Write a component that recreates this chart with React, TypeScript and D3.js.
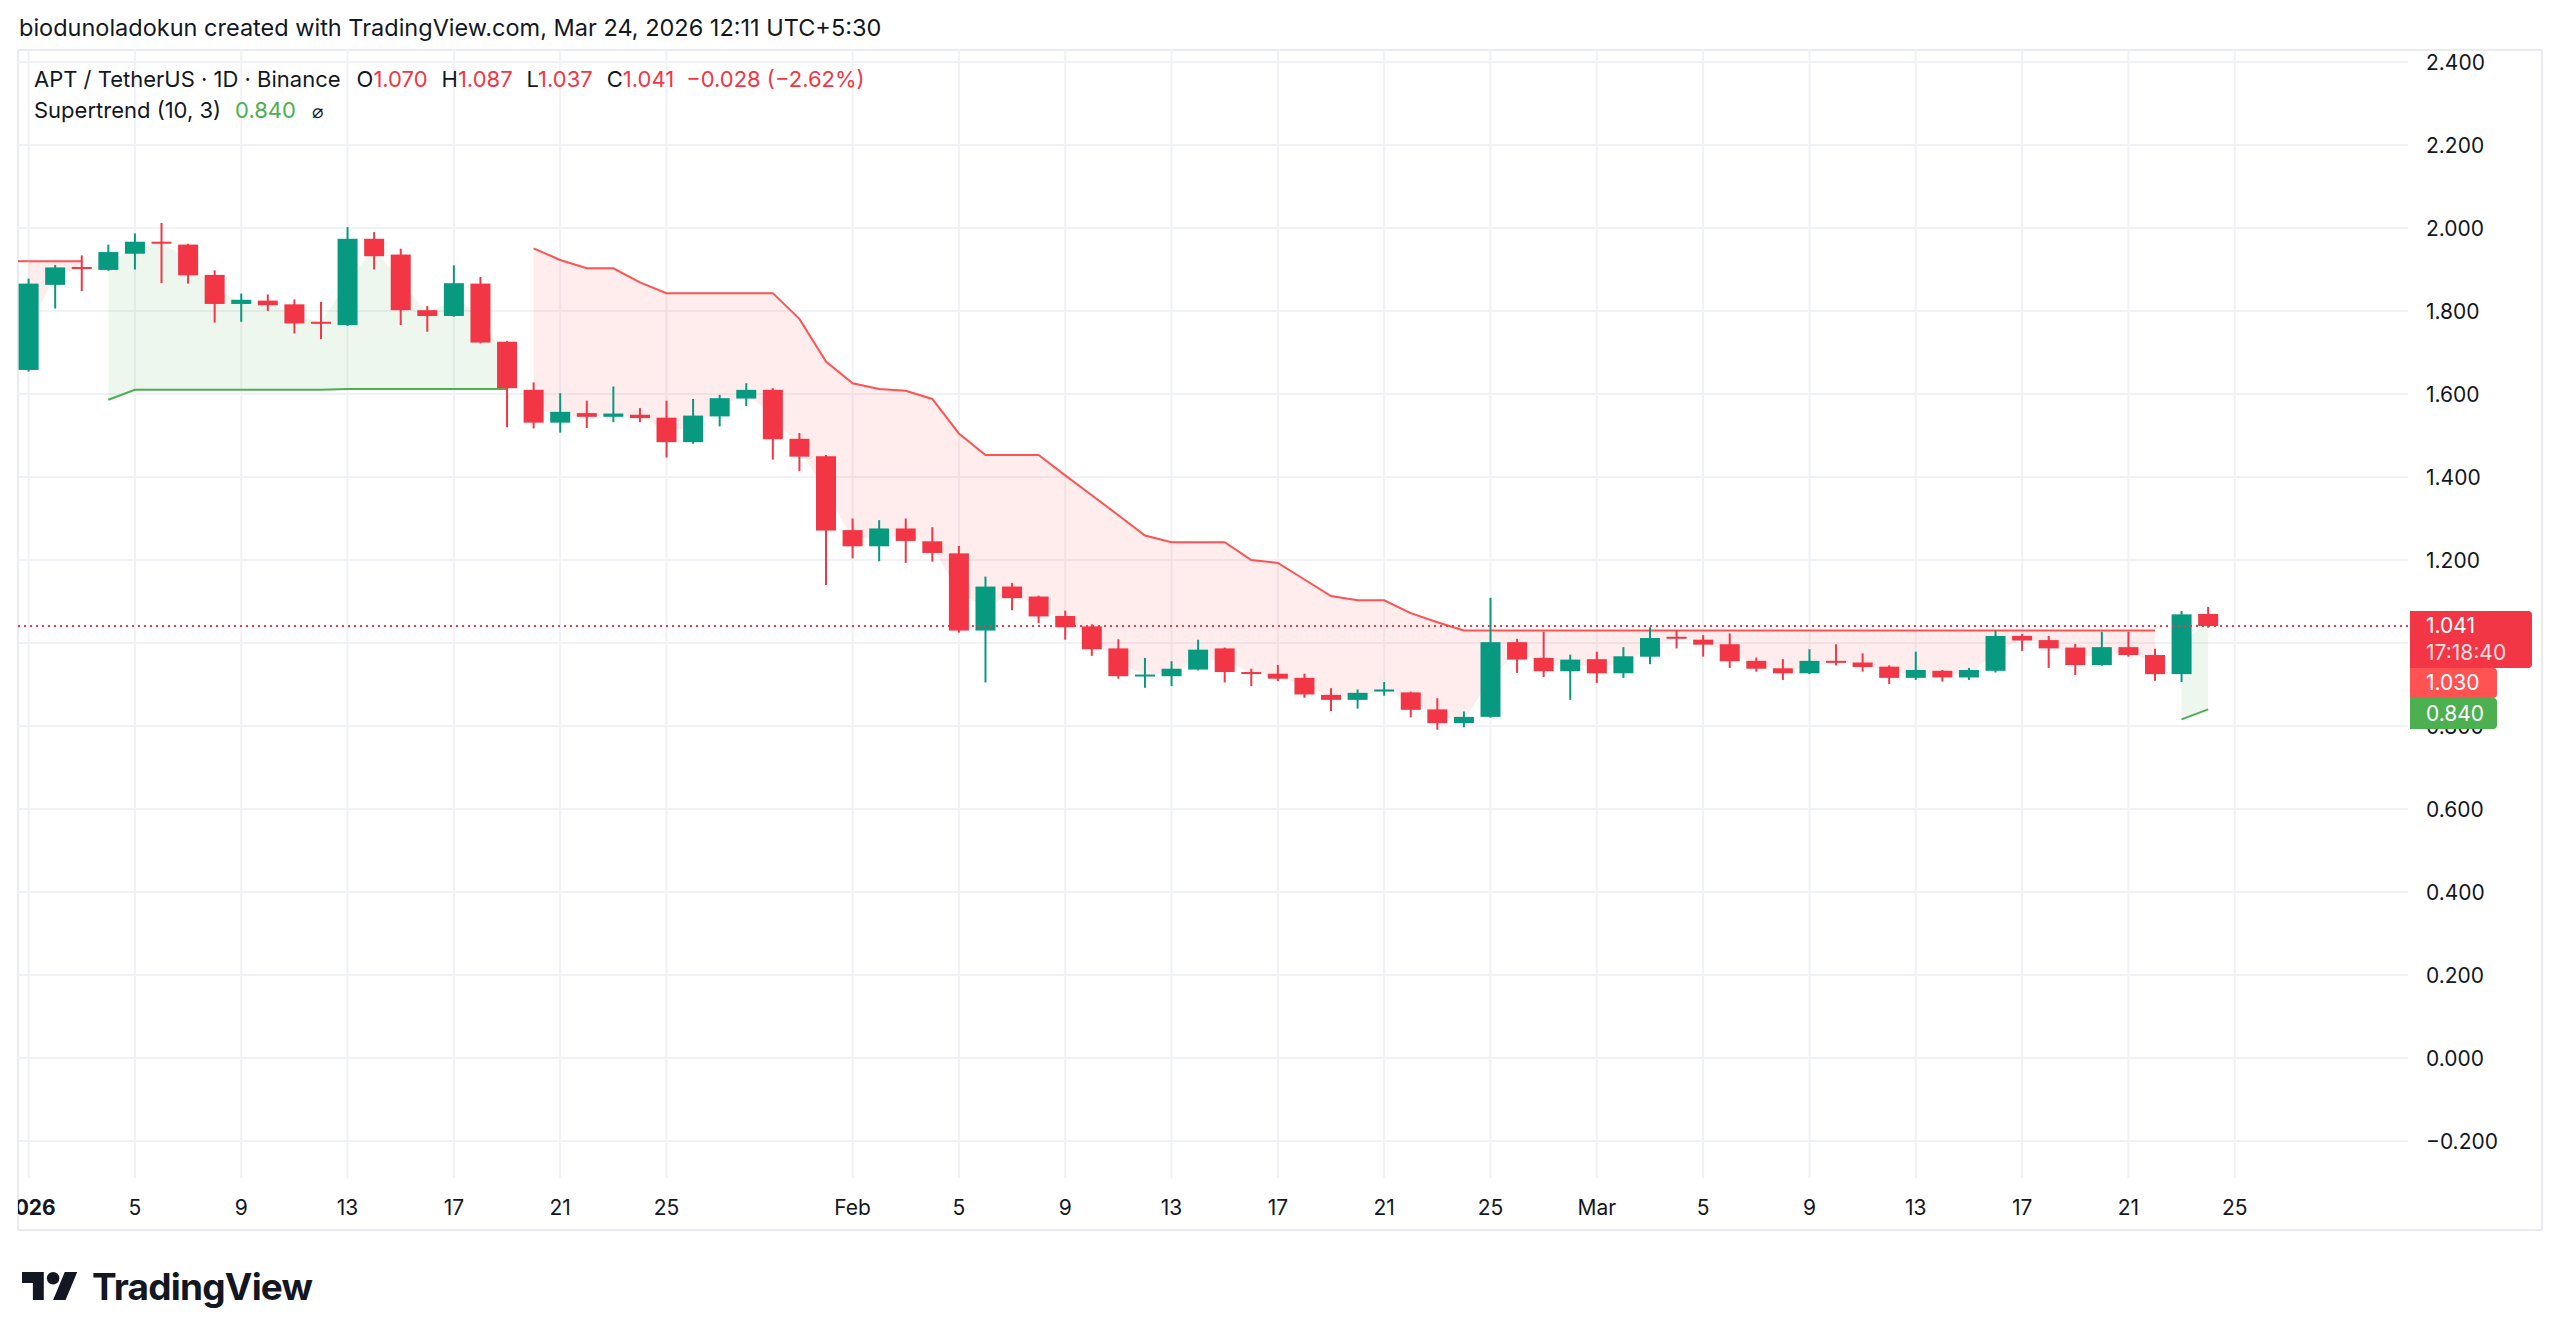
import React from 'react';
import * as d3 from 'd3';

// APT/USDT daily candles, Jan 1 - Mar 24 2026
const opens = [
  1.658, 1.863, 1.906, 1.899, 1.938, 1.967, 1.960, 1.887, 1.817, 1.825, 1.816, 1.774, 1.766, 1.974, 1.936, 1.802, 1.788, 1.866, 1.726,
  1.610, 1.531, 1.554, 1.545, 1.550, 1.543, 1.484, 1.546, 1.589, 1.610, 1.492, 1.450,
  1.272, 1.233, 1.276, 1.245, 1.216, 1.030, 1.136, 1.112, 1.065, 1.040, 0.987, 0.920, 0.920, 0.936, 0.987, 0.930, 0.926, 0.916, 0.875, 0.863, 0.883, 0.881, 0.840, 0.807, 0.822, 1.002, 0.964, 0.932,
  0.961, 0.927, 0.967, 1.015, 1.008, 0.997, 0.957, 0.939, 0.927, 0.957, 0.953, 0.943, 0.916, 0.933, 0.917, 0.933, 1.017, 1.007, 0.989, 0.947, 0.990, 0.971, 0.925, 1.070,
];
const highs = [
  1.878, 1.911, 1.934, 1.960, 1.987, 2.012, 1.962, 1.898, 1.842, 1.840, 1.828, 1.822, 2.002, 1.990, 1.950, 1.812, 1.910, 1.882, 1.728,
  1.628, 1.602, 1.584, 1.618, 1.566, 1.584, 1.588, 1.598, 1.626, 1.614, 1.506, 1.453,
  1.300, 1.296, 1.300, 1.279, 1.234, 1.160, 1.145, 1.114, 1.078, 1.045, 1.009, 0.964, 0.956, 1.008, 0.989, 0.938, 0.947, 0.926, 0.891, 0.888, 0.906, 0.883, 0.867, 0.835, 1.109, 1.010, 1.027, 0.972,
  0.979, 0.990, 1.038, 1.030, 1.019, 1.023, 0.965, 0.961, 0.985, 0.997, 0.975, 0.946, 0.979, 0.935, 0.940, 1.030, 1.022, 1.017, 0.998, 1.027, 1.027, 0.986, 1.077, 1.087,
];
const lows = [
  1.654, 1.806, 1.848, 1.897, 1.900, 1.867, 1.866, 1.772, 1.774, 1.800, 1.746, 1.732, 1.764, 1.900, 1.766, 1.750, 1.786, 1.722, 1.520,
  1.517, 1.507, 1.518, 1.532, 1.532, 1.447, 1.480, 1.522, 1.571, 1.442, 1.414, 1.140,
  1.204, 1.197, 1.193, 1.196, 1.025, 0.905, 1.079, 1.048, 1.008, 0.969, 0.914, 0.892, 0.896, 0.934, 0.905, 0.896, 0.908, 0.868, 0.836, 0.842, 0.873, 0.821, 0.791, 0.797, 0.820, 0.928, 0.918, 0.863,
  0.904, 0.916, 0.949, 0.987, 0.967, 0.940, 0.931, 0.911, 0.925, 0.946, 0.931, 0.901, 0.911, 0.907, 0.911, 0.929, 0.981, 0.940, 0.923, 0.945, 0.967, 0.909, 0.906, 1.037,
];
const closes = [
  1.866, 1.905, 1.904, 1.942, 1.967, 1.964, 1.886, 1.817, 1.827, 1.814, 1.770, 1.770, 1.974, 1.932, 1.802, 1.788, 1.867, 1.724, 1.614,
  1.531, 1.557, 1.545, 1.553, 1.542, 1.484, 1.548, 1.590, 1.610, 1.491, 1.449, 1.271,
  1.233, 1.276, 1.246, 1.217, 1.030, 1.136, 1.108, 1.064, 1.038, 0.985, 0.920, 0.924, 0.938, 0.984, 0.930, 0.926, 0.914, 0.876, 0.863, 0.880, 0.888, 0.839, 0.807, 0.822, 1.002, 0.960, 0.932, 0.960,
  0.927, 0.968, 1.012, 1.011, 0.996, 0.956, 0.938, 0.927, 0.957, 0.953, 0.942, 0.916, 0.935, 0.917, 0.935, 1.017, 1.006, 0.987, 0.947, 0.990, 0.971, 0.925, 1.069, 1.041,
];

// Supertrend (10, 3): value and direction (1 = up, -1 = down)
const stValues = [
  1.920, 1.920, 1.920, 1.586, 1.610, 1.610, 1.610, 1.610, 1.610, 1.610, 1.610, 1.610, 1.612, 1.612, 1.612, 1.612, 1.612, 1.612, 1.612,
  1.951, 1.923, 1.903, 1.903, 1.869, 1.843, 1.843, 1.843, 1.843, 1.843, 1.781, 1.678,
  1.626, 1.612, 1.608, 1.588, 1.505, 1.453, 1.453, 1.453, 1.404, 1.356, 1.308, 1.259, 1.243, 1.243, 1.243, 1.200, 1.193, 1.153, 1.113, 1.103, 1.103, 1.072, 1.050, 1.030, 1.030, 1.030, 1.030, 1.030,
  1.030, 1.030, 1.030, 1.030, 1.030, 1.030, 1.030, 1.030, 1.030, 1.030, 1.030, 1.030, 1.030, 1.030, 1.030, 1.030, 1.030, 1.030, 1.030, 1.030, 1.030, 1.030, 0.816, 0.840,
];
const stTrend = [
  -1, -1, -1, 1, 1, 1, 1, 1, 1, 1, 1, 1, 1, 1, 1, 1, 1, 1, 1,
  -1, -1, -1, -1, -1, -1, -1, -1, -1, -1, -1, -1,
  -1, -1, -1, -1, -1, -1, -1, -1, -1, -1, -1, -1, -1, -1, -1, -1, -1, -1, -1, -1, -1, -1, -1, -1, -1, -1, -1, -1,
  -1, -1, -1, -1, -1, -1, -1, -1, -1, -1, -1, -1, -1, -1, -1, -1, -1, -1, -1, -1, -1, -1, 1, 1,
];
const stBefore = 1.92;

// 1.000 sits under the price labels, so it is not printed
const priceTicks = [2.4, 2.2, 2.0, 1.8, 1.6, 1.4, 1.2, 1.0, 0.8, 0.6, 0.4, 0.2, 0.0, -0.2];
const hiddenPriceLabels = [1.0];
const timeTicks: [string, string, boolean][] = [
  ['2026-01-01', '2026', true], ['2026-01-05', '5', false], ['2026-01-09', '9', false], ['2026-01-13', '13', false],
  ['2026-01-17', '17', false], ['2026-01-21', '21', false], ['2026-01-25', '25', false], ['2026-02-01', 'Feb', false],
  ['2026-02-05', '5', false], ['2026-02-09', '9', false], ['2026-02-13', '13', false], ['2026-02-17', '17', false],
  ['2026-02-21', '21', false], ['2026-02-25', '25', false], ['2026-03-01', 'Mar', false], ['2026-03-05', '5', false],
  ['2026-03-09', '9', false], ['2026-03-13', '13', false], ['2026-03-17', '17', false], ['2026-03-21', '21', false],
  ['2026-03-25', '25', false],
];

const lastPrice = 1.041;
const stLast = 0.840;
const stDownLast = 1.030;

const W = 2560;
const H = 1342;
const pane = { left: 18, right: 2408, top: 50, bottom: 1178 };
const UP = '#089981';
const DOWN = '#f23645';
const ST_UP = '#4caf50';
const ST_DOWN = '#ff5252';
const TEXT = '#131722';
const FONT = 'Inter, Roboto, "Noto Sans", sans-serif';

const dates = d3.utcDay.range(new Date(Date.UTC(2026, 0, 1)), new Date(Date.UTC(2026, 2, 25)));

const x = d3.scaleUtc()
  .domain([dates[0], dates[dates.length - 1]])
  .range([28.6, 28.6 + 26.58 * (dates.length - 1)]);
const y = d3.scaleLinear().domain([-0.2, 2.4]).range([1141, 62]);

// split the supertrend into runs of the same direction
const segments: number[][] = [];
stTrend.forEach((t, i) => {
  if (i === 0 || t !== stTrend[i - 1]) segments.push([i]);
  else segments[segments.length - 1].push(i);
});

const mid = (i: number) => (opens[i] + closes[i]) / 2;
const fillArea = d3.area<number>()
  .x((i) => x(dates[i]))
  .y0((i) => y(stValues[i]))
  .y1((i) => y(mid(i)));
const stLine = d3.line<number>()
  .x((i) => x(dates[i]))
  .y((i) => y(stValues[i]));

const roundRight = (x0: number, y0: number, w: number, h: number, r: number) =>
  `M${x0},${y0}H${x0 + w - r}Q${x0 + w},${y0} ${x0 + w},${y0 + r}V${y0 + h - r}Q${x0 + w},${y0 + h} ${x0 + w - r},${y0 + h}H${x0}Z`;

const App: React.FC = () => {
  const dayBefore = d3.utcDay.offset(dates[0], -1);
  const axisX = 2410;
  const lp = y(lastPrice);
  const box1Top = lp - 15;
  const box2Top = box1Top + 57;
  const box3Top = Math.max(y(stLast) - 15, box2Top + 30);

  return (
    <svg width={W} height={H} style={{ position: 'absolute', left: 0, top: 0, background: '#fff' }} fontFamily={FONT}>
      <defs>
        <clipPath id="pane">
          <rect x={pane.left} y={pane.top} width={pane.right - pane.left} height={pane.bottom - pane.top} />
        </clipPath>
        <clipPath id="taxis">
          <rect x={pane.left} y={pane.bottom} width={pane.right - pane.left} height={60} />
        </clipPath>
      </defs>
      <rect width={W} height={H} fill="#ffffff" />

      <text x={19} y={36} fontSize={23.5} fill={TEXT}>
        biodunoladokun created with TradingView.com, Mar 24, 2026 12:11 UTC+5:30
      </text>

      {/* frame */}
      <rect x={pane.left} y={pane.top} width={2542 - pane.left} height={1230 - pane.top} fill="none" stroke="#e9ebf0" strokeWidth={2} />

      {/* grid */}
      <g stroke="#f0f2f5" strokeWidth={2}>
        {priceTicks.map((p) => (
          <line key={p} x1={pane.left} x2={pane.right} y1={y(p)} y2={y(p)} />
        ))}
        {timeTicks.map(([d]) => {
          const px = x(new Date(d + 'T00:00:00Z'));
          return <line key={d} x1={px} x2={px} y1={pane.top} y2={pane.bottom} />;
        })}
      </g>

      <g clipPath="url(#pane)">
        {/* supertrend fills */}
        {segments.map((s) => (
          <path key={'f' + s[0]} d={fillArea(s) || ''}
            fill={stTrend[s[0]] > 0 ? 'rgba(76,175,80,0.1)' : 'rgba(255,82,82,0.1)'} />
        ))}
        {/* supertrend lines */}
        <line x1={x(dayBefore)} x2={x(dates[0])} y1={y(stBefore)} y2={y(stValues[0])} stroke={ST_DOWN} strokeWidth={2} />
        {segments.map((s) => (
          <path key={'l' + s[0]} d={stLine(s) || ''} fill="none"
            stroke={stTrend[s[0]] > 0 ? ST_UP : ST_DOWN} strokeWidth={2} />
        ))}

        {/* candles */}
        {dates.map((d, i) => {
          const cx = x(d);
          const up = closes[i] >= opens[i];
          const col = up ? UP : DOWN;
          const top = y(Math.max(opens[i], closes[i]));
          const h = Math.max(2, Math.abs(y(opens[i]) - y(closes[i])));
          return (
            <g key={i}>
              <line x1={cx} x2={cx} y1={y(highs[i])} y2={y(lows[i])} stroke={col} strokeWidth={2} />
              <rect x={cx - 10} y={top} width={20} height={h} fill={col} />
            </g>
          );
        })}
      </g>

      {/* last price line */}
      <line x1={pane.left} x2={pane.right} y1={lp} y2={lp} stroke={DOWN} strokeWidth={2} strokeDasharray="2 4" />

      {/* legend */}
      <text x={34} y={87} fontSize={22} fill={TEXT}>
        <tspan>APT / TetherUS · 1D · Binance</tspan>
        <tspan dx={16}>O</tspan><tspan fill={DOWN}>{opens[opens.length - 1].toFixed(3)}</tspan>
        <tspan dx={14}>H</tspan><tspan fill={DOWN}>{highs[highs.length - 1].toFixed(3)}</tspan>
        <tspan dx={14}>L</tspan><tspan fill={DOWN}>{lows[lows.length - 1].toFixed(3)}</tspan>
        <tspan dx={14}>C</tspan><tspan fill={DOWN}>{closes[closes.length - 1].toFixed(3)}</tspan>
        <tspan dx={12} fill={DOWN}>−0.028 (−2.62%)</tspan>
      </text>
      <text x={34} y={118} fontSize={22} fill={TEXT}>
        <tspan>Supertrend (10, 3)</tspan>
        <tspan dx={14} fill={ST_UP}>{stLast.toFixed(3)}</tspan>
        <tspan dx={16} fontSize={19}>⌀</tspan>
      </text>

      {/* price axis */}
      <g fontSize={21} fill={TEXT}>
        {priceTicks.filter((p) => !hiddenPriceLabels.includes(p)).map((p) => (
          <text key={p} x={2426} y={y(p)} dominantBaseline="central">
            {p < 0 ? '−' + Math.abs(p).toFixed(3) : p.toFixed(3)}
          </text>
        ))}
      </g>

      {/* price labels */}
      <path d={roundRight(axisX, box1Top, 122, 57, 4)} fill={DOWN} />
      <text x={2426} y={box1Top + 15} fontSize={21} fill="#fff" dominantBaseline="central">{lastPrice.toFixed(3)}</text>
      <text x={2426} y={box1Top + 42} fontSize={21} fill="rgba(255,255,255,0.85)" dominantBaseline="central">17:18:40</text>
      <path d={roundRight(axisX, box2Top, 87, 30, 4)} fill={ST_DOWN} />
      <text x={2426} y={box2Top + 15} fontSize={21} fill="#fff" dominantBaseline="central">{stDownLast.toFixed(3)}</text>
      <path d={roundRight(axisX, box3Top, 87, 31, 4)} fill={ST_UP} />
      <text x={2426} y={box3Top + 15.5} fontSize={21} fill="#fff" dominantBaseline="central">{stLast.toFixed(3)}</text>

      {/* time axis */}
      <g fontSize={21} fill={TEXT} textAnchor="middle" clipPath="url(#taxis)">
        {timeTicks.map(([d, label, bold]) => (
          <text key={d} x={x(new Date(d + 'T00:00:00Z'))} y={1207} dominantBaseline="central" fontWeight={bold ? 700 : 400}>
            {label}
          </text>
        ))}
      </g>

      {/* logo */}
      <g transform={`translate(22, ${1272 - 4 * 1.556}) scale(1.556)`} fill="#131722">
        <path d="M14 22H7V11H0V4h14v18zM28 22h-8l7.5-18h8L28 22z" />
        <circle cx={20} cy={8} r={4} />
      </g>
      <text x={92} y={1300} fontSize={37} fontWeight={700} fill="#131722" letterSpacing={-0.8}>TradingView</text>
    </svg>
  );
};

export default App;
